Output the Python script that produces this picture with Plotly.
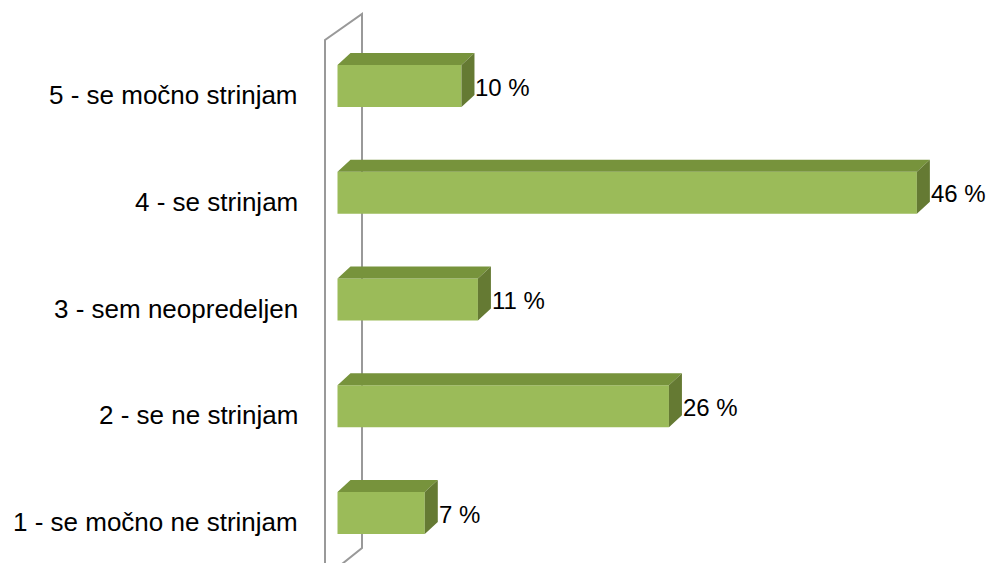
import plotly.graph_objects as go

categories = ["1 - se močno ne strinjam", "2 - se ne strinjam", "3 - sem neopredeljen",
              "4 - se strinjam", "5 - se močno strinjam"]
values = [6.9, 26.2, 11.1, 45.8, 9.8]
value_labels = ["7 %", "26 %", "11 %", "46 %", "10 %"]

OFF = 8  # page body margin offset
W, H = 995 - OFF, 571 - 2 * OFF
PX_PER_PCT = 12.65
X0_PX = 337.5 - OFF
L_MARGIN = 300 - OFF
Y_STEP_PX = 106.75
Y0_PX = 513 - OFF
BAR_W = 42 / Y_STEP_PX
DX = 13 / PX_PER_PCT
DY = 12 / Y_STEP_PX

FRONT = "#9BBB59"
TOP = "#77933C"
SIDE = "#657A33"
FONT = "Liberation Sans, Arial"

ypos = list(range(len(categories)))

fig = go.Figure()
fig.add_trace(go.Bar(x=values, y=ypos, orientation="h", width=BAR_W,
                     marker=dict(color=FRONT, line=dict(width=0)), hoverinfo="skip"))

tx, ty, sx, sy = [], [], [], []
for v, y in zip(values, ypos):
    t = y + BAR_W / 2
    b = y - BAR_W / 2
    tx += [0, v, v + DX, DX, 0, None]
    ty += [t, t, t + DY, t + DY, t, None]
    sx += [v, v, v + DX, v + DX, v, None]
    sy += [b, t, t + DY, b + DY, b, None]

fig.add_trace(go.Scatter(x=tx, y=ty, mode="lines", fill="toself", fillcolor=TOP,
                         line=dict(width=0, color=TOP), hoverinfo="skip"))
fig.add_trace(go.Scatter(x=sx, y=sy, mode="lines", fill="toself", fillcolor=SIDE,
                         line=dict(width=0, color=SIDE), hoverinfo="skip"))

for v, y, lab in zip(values, ypos, value_labels):
    fig.add_annotation(x=v + DX, y=y, text=lab, showarrow=False, xanchor="left",
                       yanchor="middle", xshift=0, yshift=-1, borderpad=0,
                       font=dict(family=FONT, size=24, color="black"))

for y, cat in zip(ypos, categories):
    fig.add_annotation(x=0, xref="paper", y=y, text=cat, showarrow=False,
                       xanchor="right", yanchor="middle", xshift=0, yshift=-9,
                       font=dict(family=FONT, size=26, color="black"))

def px(xp):
    return (xp - OFF - L_MARGIN) / (W - L_MARGIN)

def py(yp):
    return 1 - (yp - OFF) / H

wall = (f"M {px(325)},{py(580)} L {px(325)},{py(40)} L {px(362)},{py(14)} "
        f"L {px(362)},{py(548)} L {px(322)},{py(580)}")
fig.add_shape(type="path", path=wall, xref="paper", yref="paper", layer="below",
              line=dict(color="#999999", width=2))

fig.update_layout(
    width=W, height=H,
    margin=dict(l=L_MARGIN, r=0, t=0, b=0),
    plot_bgcolor="white", paper_bgcolor="white",
    showlegend=False,
    xaxis=dict(range=[(L_MARGIN - X0_PX) / PX_PER_PCT, (W - X0_PX) / PX_PER_PCT],
               showgrid=False, zeroline=False, showticklabels=False, showline=False),
    yaxis=dict(range=[-(H - Y0_PX) / Y_STEP_PX, Y0_PX / Y_STEP_PX],
               tickvals=ypos, showticklabels=False, showgrid=False, zeroline=False,
               showline=False, ticks=""),
)

fig.write_html("out.html")
